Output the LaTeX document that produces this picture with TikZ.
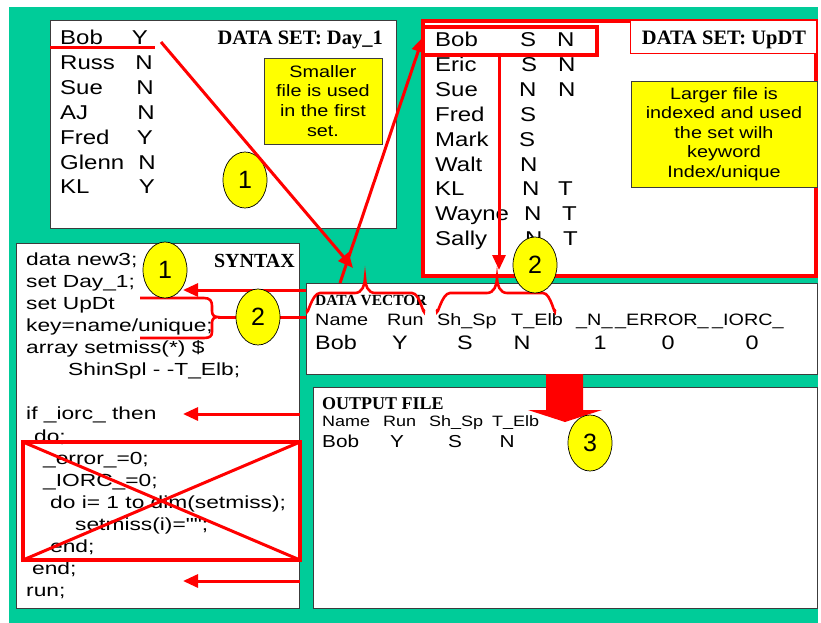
\documentclass[tikz,border=0pt]{standalone}
\usepackage{fontspec}
\setmainfont{Liberation Serif}
\newfontfamily\sansw[FakeStretch=1.2]{Liberation Sans}
\newfontfamily\codew[FakeStretch=1.3]{Liberation Sans}
\newfontfamily\plainsans{Liberation Sans}
\usetikzlibrary{arrows.meta,shapes.geometric}
\definecolor{bggreen}{RGB}{0,204,153}
\definecolor{noteyellow}{RGB}{255,255,0}
\definecolor{markred}{RGB}{255,0,0}
\definecolor{edgegray}{RGB}{60,60,60}

\tikzset{
  panel/.style={draw=edgegray, line width=1pt, fill=white, anchor=north west, inner sep=0pt, outer sep=0pt},
  note/.style={draw=edgegray, line width=0.8pt, fill=noteyellow, anchor=north west, inner sep=0pt, outer sep=0pt},
  notetext/.style={inner sep=0pt, anchor=base, font=\sansw\fontsize{16.5}{19}\selectfont},
  lst/.style={anchor=base west, inner sep=0pt, font=\sansw\fontsize{20}{24}\selectfont},
  lstc/.style={anchor=base, inner sep=0pt, font=\sansw\fontsize{20}{24}\selectfont},
  code/.style={anchor=base west, inner sep=0pt, font=\codew\fontsize{17.5}{21}\selectfont},
  ttl/.style={inner sep=0pt, font=\bfseries\fontsize{20.5}{24}\selectfont},
  dvhead/.style={anchor=base west, inner sep=0pt, font=\sansw\fontsize{16.5}{20}\selectfont},
  dvval/.style={anchor=base, inner sep=0pt, font=\sansw\fontsize{19.5}{23}\selectfont},
  ofhead/.style={anchor=base west, inner sep=0pt, font=\sansw\fontsize{15}{18}\selectfont},
  ofval/.style={anchor=base, inner sep=0pt, font=\sansw\fontsize{17.3}{20}\selectfont},
  num/.style={ellipse, draw=black, line width=0.7pt, fill=noteyellow, minimum width=44pt, minimum height=56pt,
              inner sep=0pt, font=\plainsans\fontsize{25}{28}\selectfont},
  redline/.style={draw=markred, line width=3pt},
  redarrow/.style={draw=markred, line width=3pt, -{Triangle[length=15pt,width=13pt]}},
  bracepath/.style={draw=markred, line width=2.6pt, line cap=round},
}

\begin{document}
\begin{tikzpicture}[x=1pt,y=-1pt]
\useasboundingbox (0,0) rectangle (821,623);
\fill[bggreen] (9,7) rectangle (818,623);

% ---------- panels ----------
\node[panel, minimum width=346pt, minimum height=207pt] (day1) at (50,21) {};
\node[panel, draw=markred, line width=4pt, minimum width=393pt, minimum height=255pt] (updt) at (423,21) {};
\node[panel, minimum width=283pt, minimum height=365pt] (syntax) at (16,243) {};
\node[panel, minimum width=511pt, minimum height=91pt] (dv) at (306,283) {};
\node[panel, minimum width=504pt, minimum height=221pt] (outf) at (313,387) {};

% ---------- DATA SET: Day_1 ----------
\node[ttl, anchor=base east] (t1) at (383,45) {DATA SET: Day\_1};
\foreach \nm/\v/\vx [count=\i from 0] in {Bob/Y/140, Russ/N/144, Sue/N/145, AJ/N/146, Fred/Y/145, Glenn/N/147, KL/Y/147}{
  \node[lst] (d1n\i) at (60,45+24.8*\i) {\nm};
  \node[lstc] (d1v\i) at (\vx,45+24.8*\i) {\v};
}
\draw[redline] (50,48) -- (155,48);
\node[note, minimum width=118pt, minimum height=86pt] (note1) at (264,58) {};
\node[notetext] (n1a) at (323,78) {Smaller};
\node[notetext] (n1b) at (323,97) {file is used};
\node[notetext] (n1c) at (323,117) {in the first};
\node[notetext] (n1d) at (323,136) {set.};
\node[num] (c1) at (245,180) {1};

% ---------- DATA SET: UpDT ----------
\node[panel, draw=markred, line width=1pt, minimum width=186pt, minimum height=33pt] (t2box) at (630,21) {};
\node[ttl, anchor=base] (t2) at (724,45) {DATA SET: UpDT};
\foreach \nm/\a/\ax/\b/\bx [count=\i from 0] in
  {Bob/S/520/N/557, Eric/S/521/N/558, Sue/N/519/N/558, Fred/S/520//0, Mark/S/519//0,
   Walt/N/520//0, KL/N/522/T/558, Wayne/N/524/T/562, Sally/N/525/T/563}{
  \node[lst] (upn\i) at (435,47+24.8*\i) {\nm};
  \node[lst] (upa\i) at (\ax,47+24.8*\i) {\a};
  \node[lst] (upb\i) at (\bx,47+24.8*\i) {\b};
}
\node[note, minimum width=186pt, minimum height=106pt] (note2) at (631,81) {};
\node[notetext] (n2a) at (724,100) {Larger file is};
\node[notetext] (n2b) at (724,119) {indexed and used};
\node[notetext] (n2c) at (724,138) {the set wilh};
\node[notetext] (n2d) at (724,157) {keyword};
\node[notetext] (n2e) at (724,177) {Index/unique};
\node[draw=markred, line width=3.5pt, anchor=north west, inner sep=0pt, outer sep=0pt,
      minimum width=174pt, minimum height=28pt] (bobrow) at (423,27) {};

% ---------- SYNTAX ----------
\node[ttl, anchor=base east, font=\bfseries\fontsize{20}{24}\selectfont] (t3) at (295,267) {SYNTAX};
\foreach \x/\t [count=\i from 0] in {
  26/{data new3;}, 26/{set Day\_1;}, 26/{set UpDt}, 26/{key=name/unique;},
  26/{array setmiss(*) \$}, 68/{ShinSpl - -T\_Elb;}, 26/{},
  26/{if \_iorc\_ then}, 34/{do;}, 43/{\_error\_=0;}, 43/{\_IORC\_=0;},
  50/{do i= 1 to dim(setmiss);}, 75/{setmiss(i)="";}, 50/{end;},
  32/{end;}, 26/{run;}}{
  \node[code] (cl\i) at (\x,265+22.13*\i) {\t};
}
\node[draw=markred, line width=3.3pt, anchor=north west, inner sep=0pt, outer sep=0pt,
      minimum width=277pt, minimum height=118pt] (dead) at (23,442) {};
\draw[redline] (dead.north west) -- (dead.south east);
\draw[redline] (dead.south west) -- (dead.north east);

% ---------- DATA VECTOR ----------
\node[anchor=base west, inner sep=0pt, font=\bfseries\fontsize{15.5}{18}\selectfont] (t4) at (315,305) {DATA VECTOR};
\node[dvhead] (h1) at (315,325) {Name};
\node[dvhead] (h2) at (387,325) {Run};
\node[dvhead] (h3) at (437,325) {Sh\_Sp};
\node[dvhead] (h4) at (511,325) {T\_Elb};
\node[dvhead] (h5) at (576,325) {\_N\_};
\node[dvhead] (h6) at (615,325) {\_ERROR\_};
\node[dvhead] (h7) at (712,325) {\_IORC\_};
\node[dvval, anchor=base west] (v1) at (315,349) {Bob};
\node[dvval] (v2) at (400,349) {Y};
\node[dvval] (v3) at (465,349) {S};
\node[dvval] (v4) at (522,349) {N};
\node[dvval] (v5) at (600,349) {1};
\node[dvval] (v6) at (668,349) {0};
\node[dvval] (v7) at (752,349) {0};
% braces over the variable groups
\draw[bracepath]
  (307,310) to[out=-90,in=180] (320,293) -- (355,293) to[out=0,in=-90] (365,278)
  to[out=-90,in=180] (375,293) -- (412,293) to[out=0,in=-90] (424,310);
\draw[bracepath]
  (437,310) to[out=-90,in=180] (450,293) -- (487,293) to[out=0,in=-90] (497,278)
  to[out=-90,in=180] (507,293) -- (543,293) to[out=0,in=-90] (555,310);

% ---------- OUTPUT FILE ----------
\node[anchor=base west, inner sep=0pt, font=\bfseries\fontsize{18}{21}\selectfont] (t5) at (322,409) {OUTPUT FILE};
\node[ofhead] (o1) at (322,426) {Name};
\node[ofhead] (o2) at (383,426) {Run};
\node[ofhead] (o3) at (429,426) {Sh\_Sp};
\node[ofhead] (o4) at (492,426) {T\_Elb};
\node[ofval, anchor=base west] (p1) at (322,447) {Bob};
\node[ofval] (p2) at (397,447) {Y};
\node[ofval] (p3) at (455,447) {S};
\node[ofval] (p4) at (507,447) {N};

% block arrow from the data vector into the output file
\fill[markred] (546,374) -- (583,374) -- (583,410) -- (602,410) -- (565,422) -- (528,410) -- (546,410) -- cycle;

% ---------- connectors ----------
\coordinate (bobY) at (161,42);
\coordinate (dvIn) at (353,268);
\coordinate (dvTop) at (340,283);
\coordinate (bobUp) at (423,37);
\coordinate (bobDown) at (499,55);
\coordinate (dvIn2) at (499,270);
\coordinate (dvA) at (306,290);
\coordinate (lineA) at (183,290);
\coordinate (outA) at (300,414);
\coordinate (lineB) at (183,414);
\coordinate (outB) at (300,581);
\coordinate (lineC) at (183,581);
\coordinate (tip) at (218,317);
\coordinate (dvB) at (306,317);

\draw[redarrow] (bobY) -- (dvIn);
\draw[redarrow] (dvTop) -- (bobUp);
\draw[redarrow] (bobDown) -- (dvIn2);
\draw[redarrow] (dvA) -- (lineA);
\draw[redarrow] (outA) -- (lineB);
\draw[redarrow] (outB) -- (lineC);
\draw[redline] (tip) -- (dvB);
% brace gathering the two set statements
\draw[draw=markred, line width=2.6pt]
  (140,298) -- (204,298) .. controls (210,298) and (212,301) .. (212,306) -- (212,311)
  .. controls (212,315) and (214,317) .. (tip)
  .. controls (214,317) and (212,319) .. (212,323) -- (212,332)
  .. controls (212,336) and (210,338) .. (204,338) -- (140,338);

% ---------- step markers ----------
\node[num] (c2) at (535,265) {2};
\node[num] (c3) at (165,270) {1};
\node[num] (c4) at (258,317) {2};
\node[num] (c5) at (590,443) {3};
\end{tikzpicture}
\end{document}
